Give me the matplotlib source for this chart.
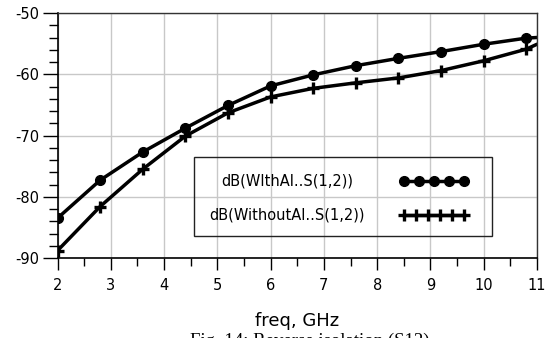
import numpy as np
import matplotlib
matplotlib.use("Agg")
import matplotlib.pyplot as plt
from matplotlib.ticker import MultipleLocator
from matplotlib.patches import Rectangle

# ---- data ----
freq = [2.0, 2.8, 3.6, 4.4, 5.2, 6.0, 6.8, 7.6, 8.4, 9.2, 10.0, 10.8, 11.0]
with_al = [-83.5, -77.3, -72.7, -68.8, -65.1, -61.9, -60.1, -58.6, -57.4, -56.3, -55.1, -54.1, -54.0]
without_al = [-88.8, -81.6, -75.5, -70.1, -66.3, -63.7, -62.3, -61.4, -60.6, -59.4, -57.8, -55.9, -55.1]
labels = ["dB(WIthAl..S(1,2))", "dB(WithoutAl..S(1,2))"]
xlabel = "freq, GHz"
caption = "Fig. 14: Reverse isolation (S12)"
xticks = list(range(2, 12))
yticks = [-90, -80, -70, -60, -50]

plt.rcParams['font.family'] = ['DejaVu Sans']
plt.rcParams['axes.unicode_minus'] = False

fig = plt.figure(figsize=(5.54, 3.38), dpi=100)
ax = fig.add_axes([57.5/554, 1-258/338, (537-57.5)/554, (258-13)/338])

marks = list(range(len(freq) - 1))
ax.plot(freq, with_al, color='black', lw=2.5, marker='o', ms=7,
        markevery=marks, solid_capstyle='round')
ax.plot(freq, without_al, color='black', lw=2.5, marker='+', ms=8.5, mew=2.4,
        markevery=marks, solid_capstyle='round')

ax.set_xlim(2, 11)
ax.set_ylim(-90, -50)
ax.set_xticks(xticks)
ax.set_yticks(yticks)
ax.xaxis.set_minor_locator(MultipleLocator(0.5))
ax.yaxis.set_minor_locator(MultipleLocator(2))
ax.tick_params(axis='x', which='major', length=8.6, width=1, pad=6, labelsize=10.5, direction='out')
ax.tick_params(axis='x', which='minor', length=5.8, width=1, direction='out')
ax.tick_params(axis='y', which='major', length=10.8, width=1, pad=2, labelsize=10.5, direction='out')
ax.tick_params(axis='y', which='minor', length=6.5, width=1, direction='out')
ax.grid(True, which='major', color='#c8c8c8', lw=1)
ax.set_axisbelow(True)
for s in ['left', 'bottom']:
    ax.spines[s].set_linewidth(1.2)
for s in ['top', 'right']:
    ax.spines[s].set_linewidth(1.0)
    ax.spines[s].set_color('#333333')

ax.set_xlabel(xlabel, fontsize=13, labelpad=13.5)

# ---- legend (drawn manually in axes coordinates) ----
ax.add_patch(Rectangle((0.285, 0.09), 0.6205, 0.321, transform=ax.transAxes,
                       fill=False, edgecolor='#222222', lw=1, zorder=3))
ax.text(0.4786, 0.314, labels[0], transform=ax.transAxes, ha='center', va='center', fontsize=10.5)
ax.text(0.4786, 0.1755, labels[1], transform=ax.transAxes, ha='center', va='center', fontsize=10.5)
ax.plot(np.linspace(0.723, 0.847, 5), [0.314]*5, transform=ax.transAxes, color='black',
        lw=2.5, marker='o', ms=7, clip_on=False)
ax.plot(np.linspace(0.723, 0.847, 6), [0.1755]*6, transform=ax.transAxes, color='black',
        lw=2.5, marker='+', ms=8.5, mew=2.4, clip_on=False)

fig.text(310/554, 1-333/338, caption, ha='center', va='top', fontsize=13.5,
         family=['Liberation Serif', 'DejaVu Serif'])

fig.savefig("out.png", dpi=100)
